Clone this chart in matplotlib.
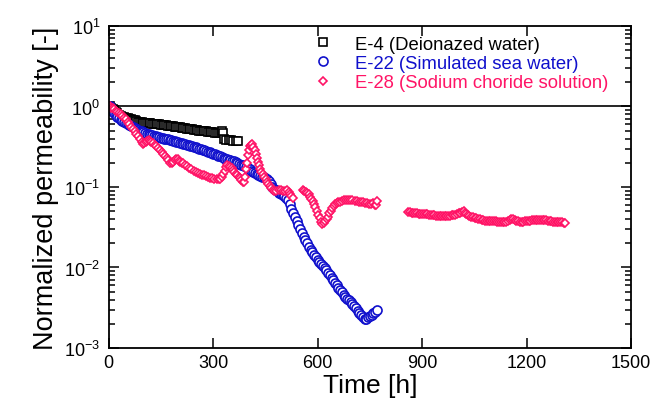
import matplotlib
matplotlib.use("Agg")
import matplotlib.pyplot as plt
from matplotlib.ticker import LogLocator, FixedLocator, NullFormatter
import numpy as np

plt.rcParams['font.family'] = ['Liberation Sans', 'DejaVu Sans']
plt.rcParams['mathtext.fontset'] = 'custom'
plt.rcParams['mathtext.rm'] = 'Liberation Sans'
plt.rcParams['mathtext.it'] = 'Liberation Sans'
plt.rcParams['axes.unicode_minus'] = False

# ---------------- data ----------------
e4_t = [4, 8, 12, 16, 20, 25, 30, 35, 40, 45, 50, 55, 60, 65, 70, 75, 80, 85, 90, 95,
        100, 105, 110, 115, 120, 125, 130, 135, 140, 145, 150, 155, 160, 165, 170,
        175, 180, 185, 190, 195, 200, 205, 210, 215, 220, 225, 230, 235, 240, 245,
        250, 255, 260, 265, 270, 275, 280, 285, 290, 295, 300, 305, 311, 316, 322,
        326, 328, 332, 338, 345, 352, 358, 365, 372]
e4_v = [1.00, 0.96, 0.92, 0.88, 0.85, 0.82, 0.79, 0.77, 0.75, 0.74, 0.72, 0.71, 0.70,
        0.69, 0.68, 0.67, 0.66, 0.65, 0.64, 0.635, 0.63, 0.625, 0.62, 0.62, 0.615,
        0.61, 0.61, 0.605, 0.60, 0.60, 0.595, 0.59, 0.59, 0.585, 0.58, 0.575, 0.57,
        0.565, 0.56, 0.56, 0.555, 0.55, 0.545, 0.54, 0.535, 0.53, 0.53, 0.525, 0.52,
        0.515, 0.51, 0.505, 0.50, 0.50, 0.495, 0.49, 0.49, 0.485, 0.48, 0.48, 0.48,
        0.475, 0.475, 0.47, 0.47, 0.49, 0.465, 0.40, 0.385, 0.38, 0.38, 0.375, 0.37,
        0.37]

e22_t = [4, 8, 12, 16, 20, 25, 30, 35, 40, 45, 50, 55, 60, 65, 70, 75, 80, 85, 90,
         95, 100, 105, 110, 115, 120, 125, 130, 135, 140, 145, 150, 155, 160, 165,
         170, 175, 180, 185, 190, 195, 200, 205, 210, 215, 220, 225, 230, 235, 240,
         245, 250, 255, 260, 265, 270, 275, 280, 285, 290, 295, 300, 305, 310, 315,
         320, 325, 330, 335, 340, 345, 350, 355, 360, 365, 370, 375, 380, 385, 390,
         395, 400, 405, 410, 415, 420, 425, 430, 435, 440, 445, 450, 455, 460, 465,
         470, 475, 480, 485, 490, 495, 500, 505, 510, 515, 520, 525, 530, 535, 540,
         545, 550, 555, 560, 565, 570, 575, 580, 585, 590, 595, 600, 605, 610, 615,
         620, 625, 630, 635, 640, 645, 650, 655, 660, 665, 670, 675, 680, 685, 690,
         695, 700, 705, 710, 715, 720, 725, 730, 735, 740, 745, 750, 755, 760, 765,
         771]
e22_v = [1.00, 0.95, 0.89, 0.84, 0.80, 0.75, 0.71, 0.68, 0.655, 0.635, 0.615, 0.60,
         0.585, 0.57, 0.555, 0.54, 0.53, 0.515, 0.50, 0.49, 0.48, 0.47, 0.46, 0.45,
         0.445, 0.44, 0.43, 0.425, 0.42, 0.415, 0.41, 0.405, 0.40, 0.395, 0.39,
         0.385, 0.38, 0.375, 0.37, 0.365, 0.36, 0.355, 0.35, 0.345, 0.34, 0.335,
         0.33, 0.325, 0.32, 0.315, 0.31, 0.305, 0.30, 0.297, 0.29, 0.285, 0.28,
         0.275, 0.27, 0.265, 0.26, 0.255, 0.25, 0.245, 0.24, 0.235, 0.23, 0.225,
         0.22, 0.217, 0.214, 0.212, 0.21, 0.205, 0.20, 0.195, 0.19, 0.185, 0.18,
         0.175, 0.17, 0.165, 0.16, 0.155, 0.15, 0.146, 0.142, 0.138, 0.135, 0.132,
         0.129, 0.126, 0.118, 0.11, 0.10, 0.094, 0.091, 0.088, 0.085, 0.082, 0.08,
         0.077, 0.073, 0.068, 0.061, 0.054, 0.048, 0.043, 0.038, 0.034, 0.030,
         0.027, 0.024, 0.022, 0.020, 0.018, 0.0165, 0.0155, 0.0145, 0.0135, 0.0125,
         0.0118, 0.0112, 0.0105, 0.0098, 0.0092, 0.0086, 0.008, 0.0075, 0.007,
         0.0065, 0.006, 0.0055, 0.0052, 0.0049, 0.0046, 0.0043, 0.0041, 0.0039,
         0.0037, 0.0035, 0.0033, 0.0031, 0.0029, 0.0027, 0.0026, 0.0024, 0.0023,
         0.0023, 0.0024, 0.0025, 0.0026, 0.0027, 0.0028, 0.003]

e28_t = [4, 8, 12, 16, 20, 25, 30, 35, 40, 45, 50, 55, 60, 65, 70, 75, 80, 85, 90, 95,
         99, 103, 107, 111, 115, 119, 123, 127, 132, 137, 142, 147, 152, 157, 162,
         167, 172, 177, 182, 186, 190, 194, 198, 202, 206, 210, 214, 220, 226, 232,
         238, 244, 250, 256, 262, 268, 274, 280, 286, 292, 298, 304, 310, 316, 321,
         325, 329, 333, 337, 341, 345, 349, 353, 357, 361, 365, 369, 373, 377, 381,
         385, 389, 392, 395, 398, 401, 404, 407, 410, 413, 416, 419, 422, 425, 428,
         431, 435, 439, 443, 447, 451, 455, 459, 463, 467, 471, 476, 482, 488, 494,
         500, 506, 512, 517, 521, 525, 530,
         558, 562, 566, 570, 574, 578, 582, 586, 590, 594, 598, 602, 606, 610, 614,
         618, 622, 626, 630, 634, 638, 642, 646, 650, 655, 660, 665, 670, 676, 682,
         688, 694, 700, 706, 712, 718, 724, 730, 736, 742, 748, 754, 760, 764, 767,
         771,
         860, 865, 870, 875, 880, 885, 890, 895, 900, 905, 910, 915, 920, 925, 930,
         935, 940, 945, 950, 955, 960, 965, 970, 975, 980, 985, 990, 995, 1000, 1005,
         1010, 1015, 1019, 1023, 1027, 1031, 1036, 1041, 1046, 1051, 1056, 1061,
         1066, 1071, 1076, 1081, 1086, 1091, 1096, 1101, 1106, 1111, 1116, 1121,
         1126, 1131, 1136, 1141, 1146, 1151, 1156, 1161, 1166, 1171, 1176, 1181,
         1186, 1191, 1196, 1201, 1206, 1211, 1216, 1221, 1226, 1231, 1236, 1241,
         1246, 1251, 1256, 1261, 1266, 1271, 1276, 1281, 1286, 1291, 1296, 1301,
         1306, 1311]
e28_v = [1.00, 0.97, 0.95, 0.92, 0.89, 0.86, 0.83, 0.80, 0.76, 0.72, 0.69, 0.65,
         0.60, 0.56, 0.53, 0.49, 0.46, 0.43, 0.40, 0.36, 0.34, 0.35, 0.36, 0.375,
         0.38, 0.375, 0.36, 0.35, 0.335, 0.32, 0.305, 0.29, 0.275, 0.26, 0.245,
         0.23, 0.215, 0.20, 0.196, 0.205, 0.215, 0.225, 0.22, 0.21, 0.205, 0.20,
         0.196, 0.188, 0.18, 0.172, 0.165, 0.16, 0.155, 0.15, 0.146, 0.142, 0.139,
         0.136, 0.133, 0.13, 0.128, 0.127, 0.125, 0.124, 0.124, 0.135, 0.147, 0.16,
         0.175, 0.187, 0.183, 0.178, 0.172, 0.164, 0.155, 0.147, 0.14, 0.134, 0.128,
         0.122, 0.117, 0.114, 0.135, 0.165, 0.20, 0.25, 0.29, 0.32, 0.335, 0.34,
         0.315, 0.285, 0.26, 0.23, 0.205, 0.185, 0.168, 0.155, 0.143, 0.133, 0.125,
         0.117, 0.11, 0.104, 0.098, 0.093, 0.09, 0.09, 0.091, 0.091, 0.09, 0.09,
         0.091, 0.087, 0.083, 0.078, 0.072,
         0.091, 0.089, 0.087, 0.084, 0.081, 0.076, 0.071, 0.067, 0.062, 0.057,
         0.050, 0.045, 0.041, 0.037, 0.035, 0.036, 0.038, 0.04, 0.043, 0.047, 0.051,
         0.055, 0.058, 0.061, 0.063, 0.065, 0.066, 0.067, 0.068, 0.068, 0.068,
         0.068, 0.068, 0.067, 0.067, 0.066, 0.066, 0.065, 0.064, 0.063, 0.062,
         0.062, 0.064, 0.060, 0.059, 0.067,
         0.049, 0.0485, 0.048, 0.048, 0.0475, 0.047, 0.0465, 0.046, 0.046, 0.046,
         0.046, 0.046, 0.0455, 0.045, 0.045, 0.0445, 0.044, 0.044, 0.044, 0.044,
         0.044, 0.044, 0.044, 0.044, 0.044, 0.0445, 0.045, 0.0455, 0.046, 0.047,
         0.048, 0.0495, 0.050, 0.048, 0.046, 0.045, 0.0435, 0.0425, 0.042, 0.0415,
         0.041, 0.040, 0.0395, 0.039, 0.0385, 0.038, 0.038, 0.0378, 0.0376, 0.0375,
         0.0374, 0.0373, 0.0372, 0.0372, 0.0371, 0.037, 0.037, 0.037, 0.0375,
         0.0385, 0.0395, 0.040, 0.039, 0.038, 0.0375, 0.037, 0.037, 0.037, 0.0375,
         0.038, 0.038, 0.0383, 0.0385, 0.0385, 0.0385, 0.0385, 0.0385, 0.0385,
         0.0385, 0.0385, 0.0385, 0.038, 0.0377, 0.0374, 0.0372, 0.037, 0.037,
         0.0368, 0.0366, 0.0365, 0.0362, 0.036]

labels = ["E-4 (Deionazed water)", "E-22 (Simulated sea water)",
          "E-28 (Sodium choride solution)"]
colors = ["black", "#1010cc", "#ff1466"]
x_ticks = [0, 300, 600, 900, 1200, 1500]

# ---------------- figure ----------------
fig = plt.figure(figsize=(6.54, 4.06), dpi=100)
ax = fig.add_axes([0.166, 0.1404, 0.799, 0.7931])

ax.plot(e4_t, e4_v, linestyle='none', marker='s', ms=6.0, mew=1.2,
        mec=colors[0], mfc='white', label=labels[0])
ax.plot(e22_t, e22_v, linestyle='none', marker='o', ms=6.5, mew=1.2,
        mec=colors[1], mfc='white', label=labels[1])
ax.plot(e28_t, e28_v, linestyle='none', marker='D', ms=4.3, mew=1.2,
        mec=colors[2], mfc='white', label=labels[2])

ax.axhline(1.0, color='black', lw=1.2, zorder=1)

ax.set_yscale('log')
ax.set_xlim(0, 1500)
ax.set_ylim(1e-3, 1e1)
ax.xaxis.set_major_locator(FixedLocator(x_ticks))
ax.yaxis.set_major_locator(LogLocator(base=10, numticks=10))
ax.yaxis.set_minor_locator(LogLocator(base=10, subs=np.arange(2, 10), numticks=10))
ax.yaxis.set_minor_formatter(NullFormatter())

ax.tick_params(which='both', direction='in', top=True, right=True,
               labelsize=13, width=1.1)
ax.tick_params(which='major', length=7)
ax.tick_params(which='minor', length=4)
ax.tick_params(axis='x', pad=4)
ax.tick_params(axis='y', pad=6)
for s in ax.spines.values():
    s.set_linewidth(1.3)

ax.set_xlabel("Time [h]", fontsize=19, labelpad=2)
ax.set_ylabel("Normalized permeability [-]", fontsize=19.5, labelpad=4)

leg = ax.legend(loc='upper left', bbox_to_anchor=(0.396, 0.97), frameon=False,
                fontsize=13.3, handlelength=0.8, handletextpad=1.33,
                labelspacing=0.12, borderpad=0, borderaxespad=0,
                labelcolor='markeredgecolor')

fig.savefig("out.png", dpi=100)
